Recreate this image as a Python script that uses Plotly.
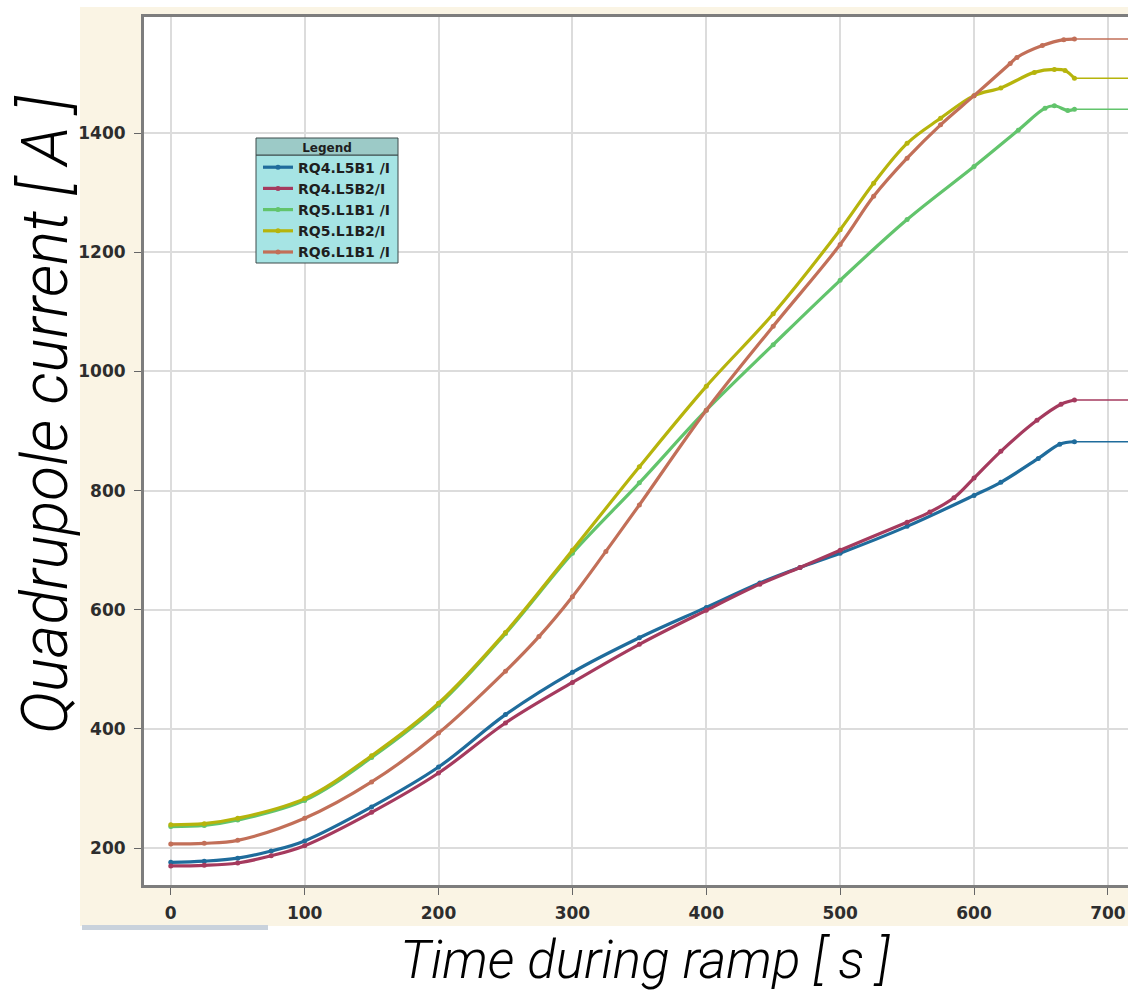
import plotly.graph_objects as go

# ---------------- data ----------------
series_names = ["RQ4.L5B1 /I", "RQ4.L5B2/I", "RQ5.L1B1 /I", "RQ5.L1B2/I", "RQ6.L1B1 /I"]
series_colors = ["#1f6c9c", "#a53a5e", "#62c46c", "#b6b40c", "#c26f58"]

t_rq4_l5b1 = [0, 25, 50, 75, 100, 150, 200, 250, 300, 350, 400, 440, 470, 500, 550, 600, 620, 648, 664, 675]
i_rq4_l5b1 = [176, 178, 183, 195, 212, 269, 336, 424, 495, 553, 604, 645, 671, 695, 740, 792, 814, 854, 878, 882]

t_rq4_l5b2 = [0, 25, 50, 75, 100, 150, 200, 250, 300, 350, 400, 440, 470, 500, 550, 567, 585, 600, 620, 647, 665, 675]
i_rq4_l5b2 = [170, 171, 175, 187, 204, 260, 326, 410, 478, 542, 599, 643, 671, 700, 747, 764, 788, 821, 866, 918, 945, 952]

t_rq5_l1b1 = [0, 25, 50, 100, 150, 200, 250, 300, 350, 400, 450, 500, 550, 600, 633, 653, 660, 670, 675]
i_rq5_l1b1 = [236, 238, 247, 280, 352, 440, 560, 695, 813, 935, 1045, 1153, 1255, 1344, 1405, 1442, 1446, 1438, 1440]

t_rq5_l1b2 = [0, 25, 50, 100, 150, 200, 250, 300, 350, 400, 450, 500, 525, 550, 575, 600, 620, 645, 660, 668, 675]
i_rq5_l1b2 = [239, 241, 250, 283, 355, 443, 562, 700, 840, 975, 1097, 1238, 1316, 1383, 1425, 1463, 1476, 1502, 1507, 1505, 1492]

t_rq6_l1b1 = [0, 25, 50, 100, 150, 200, 250, 275, 300, 325, 350, 400, 450, 500, 525, 550, 575, 600, 627, 632, 651, 667, 675]
i_rq6_l1b1 = [207, 208, 213, 250, 311, 393, 497, 555, 622, 698, 776, 935, 1076, 1213, 1294, 1358, 1414, 1463, 1517, 1527, 1547, 1557, 1558]

t_hold_end = 715  # the flat hold continues to the right edge

x_ticks = [0, 100, 200, 300, 400, 500, 600, 700]
y_ticks = [200, 400, 600, 800, 1000, 1200, 1400]
x_range = [-20, 715]
y_range = [138, 1595]

x_title = "Time during ramp [ s ]"
y_title = "Quadrupole current [ A ]"
legend_title = "Legend"

# ---------------- figure ----------------
W, H = 1128, 993
L, R, T, B = 144, 0, 17, 108
pw, ph = W - L - R, H - T - B


def px(x):
    return (x - L) / pw


def py(y):
    return (H - B - y) / ph


all_t = [t_rq4_l5b1, t_rq4_l5b2, t_rq5_l1b1, t_rq5_l1b2, t_rq6_l1b1]
all_i = [i_rq4_l5b1, i_rq4_l5b2, i_rq5_l1b1, i_rq5_l1b2, i_rq6_l1b1]

fig = go.Figure()
for name, col, tt, ii in zip(series_names, series_colors, all_t, all_i):
    fig.add_trace(go.Scatter(
        x=tt, y=ii, name=name, mode="lines+markers",
        line=dict(color=col, width=3.2, shape="spline", smoothing=1.0),
        marker=dict(color=col, size=5),
    ))
    fig.add_trace(go.Scatter(
        x=[tt[-1], t_hold_end], y=[ii[-1], ii[-1]], mode="lines",
        line=dict(color=col, width=1.5), showlegend=False, hoverinfo="skip",
    ))

tick_font = dict(family="DejaVu Sans", size=17, color="#2d2d2d", weight="bold")
axis_common = dict(
    showgrid=True, gridcolor="#dcdcdc", gridwidth=2,
    showline=True, linecolor="#7d7d7d", linewidth=3,
    ticks="outside", ticklen=7, tickcolor="#666", tickwidth=1,
    tickfont=tick_font, zeroline=False,
)

fig.update_layout(
    width=W, height=H,
    margin=dict(l=L, r=R, t=T, b=B),
    paper_bgcolor="white", plot_bgcolor="white",
    showlegend=True,
    xaxis=dict(range=x_range, tickvals=x_ticks, mirror=True, ticklabelstandoff=4, **axis_common),
    yaxis=dict(range=y_range, tickvals=y_ticks, mirror=False, ticklabelstandoff=5, **axis_common),
    legend=dict(
        x=px(258), y=py(136), xanchor="left", yanchor="top",
        bgcolor="rgba(0,0,0,0)", borderwidth=0,
        font=dict(family="DejaVu Sans", size=14, color="#1e1e1e", weight="bold"),
        title=dict(text=legend_title, side="top center",
                   font=dict(family="DejaVu Sans", size=12, color="#1e1e1e", weight="bold")),
        itemwidth=30, tracegroupgap=0,
    ),
    shapes=[
        # beige window background
        dict(type="rect", xref="paper", yref="paper", x0=px(80), x1=px(1128), y0=py(926), y1=py(7),
             fillcolor="#faf4e4", line=dict(width=0), layer="below"),
        # white plotting area
        dict(type="rect", xref="x domain", yref="y domain", x0=0, x1=1, y0=0, y1=1,
             fillcolor="white", line=dict(width=0), layer="below"),
        # scroll-bar remnant
        dict(type="rect", xref="paper", yref="paper", x0=px(82), x1=px(268), y0=py(930), y1=py(925),
             fillcolor="#c9d2dc", line=dict(width=0), layer="below"),
        # legend body
        dict(type="rect", xref="paper", yref="paper", x0=px(256), x1=px(398), y0=py(263), y1=py(155),
             fillcolor="#a6e4e4", line=dict(color="#3c4a4a", width=1), layer="above"),
        # legend header
        dict(type="rect", xref="paper", yref="paper", x0=px(256), x1=px(398), y0=py(155), y1=py(138),
             fillcolor="#9ccac7", line=dict(color="#3c4a4a", width=1), layer="above"),
    ],
    annotations=[
        dict(text=y_title, xref="paper", yref="paper", x=px(46), y=py(415),
             xanchor="center", yanchor="middle", textangle=-90, showarrow=False,
             font=dict(family="Roboto", size=64, color="black", style="italic", weight=300)),
        dict(text=x_title, xref="paper", yref="paper", x=px(645), y=py(960),
             xanchor="center", yanchor="middle", showarrow=False, borderpad=0,
             font=dict(family="Roboto", size=53, color="black", style="italic", weight=300)),
    ],
)

fig.write_html("out.html")
